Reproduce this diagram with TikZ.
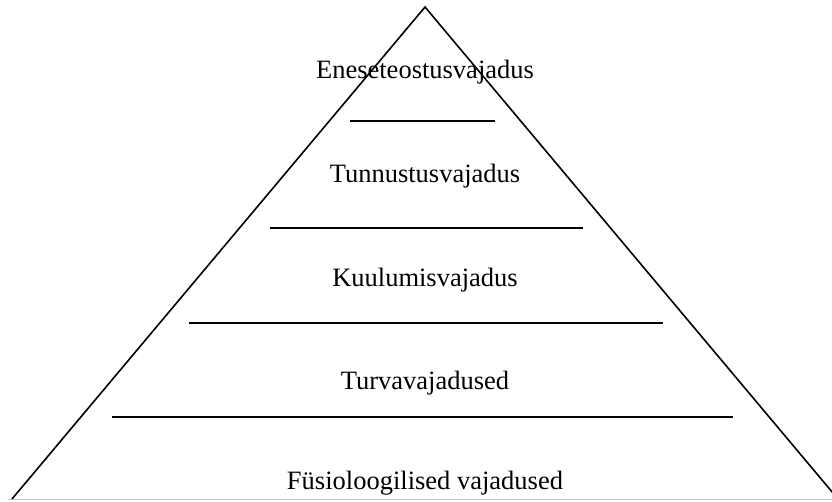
\documentclass[tikz,border=0pt]{standalone}
\usepackage{fontspec}
\setmainfont{Liberation Serif}
\begin{document}
\begin{tikzpicture}[x=1pt,y=-1pt,
  lvl/.style={anchor=base,inner sep=0pt,font=\fontsize{26.5}{30}\selectfont},
  sep/.style={line width=2pt,black},
  side/.style={line width=1.6pt,black,line join=miter}]
\useasboundingbox (0,0) rectangle (832,501);
\clip (0,0) rectangle (832,501);
\fill[white] (0,0) rectangle (832,501);
% base line (light gray)
\draw[line width=1pt,color={rgb,255:red,200;green,200;blue,200}] (8,499.5) -- (832,499.5);
% level texts
\node[lvl] (t1) at (425,78) {Eneseteostusvajadus};
\node[lvl] (t2) at (425,182) {Tunnustusvajadus};
\node[lvl] (t3) at (425,286) {Kuulumisvajadus};
\node[lvl] (t4) at (425,389) {Turvavajadused};
\node[lvl] (t5) at (425,489) {Füsioloogilised vajadused};
% separators
\draw[sep] (350,121) -- (495,121);
\draw[sep] (270,227.5) -- (583,227.5);
\draw[sep] (189,323) -- (663,323);
\draw[sep] (112,417) -- (733,417);
% triangle sides
\coordinate (apex) at (425,7);
\coordinate (bl) at (12,499);
\coordinate (br) at (838,499);
\draw[side] (bl) -- (apex) -- (br);
\end{tikzpicture}
\end{document}
